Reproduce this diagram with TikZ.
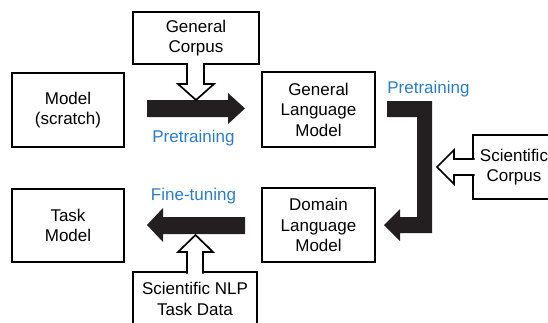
\documentclass[tikz,border=0pt]{standalone}
\usepackage{fontspec}
\setmainfont{Liberation Sans}
\definecolor{lblblue}{RGB}{42,126,200}
\definecolor{arrowblack}{RGB}{35,31,32}
\begin{document}
\begin{tikzpicture}[x=1pt,y=-1pt,
  box/.style={draw=black, line width=1.7pt, fill=white, align=center, inner sep=0pt,
    font=\fontsize{17}{20.5}\selectfont},
  lbl/.style={text=lblblue, anchor=base, inner sep=0pt, font=\fontsize{17}{20.5}\selectfont},
  bigarrow/.style={fill=arrowblack},
  hollow/.style={draw=black, fill=white, line width=1.7pt, line join=miter}]
\useasboundingbox (0,0) rectangle (548,322);

% boxes
\node[box, minimum width=112pt, minimum height=74pt] (scratch) at (68,110) {Model\\(scratch)};
\node[box, minimum width=126pt, minimum height=52pt] (gencorp) at (196,38) {General\\Corpus};
\node[box, minimum width=113pt, minimum height=75pt] (glm) at (318.5,109.5) {General\\Language\\Model};
\node[box, minimum width=82pt, minimum height=64pt] (scicorp) at (514,167) {Scientific\\Corpus};
\node[box, minimum width=113pt, minimum height=74pt] (dlm) at (318.5,225) {Domain\\Language\\Model};
\node[box, minimum width=112pt, minimum height=73pt] (task) at (68,225.5) {Task\\Model};
\node[box, minimum width=124pt, minimum height=58pt, text depth=0pt] (scinlp) at (195,301) {};
\node[font=\fontsize{17}{20.5}\selectfont, align=center, inner sep=0pt] (scinlptxt) at (195,299) {Scientific NLP\\Task Data};

% black arrows
\fill[bigarrow] (147,100) -- (228,100) -- (228,93) -- (245,108.5) -- (228,124) -- (228,117) -- (147,117) -- cycle;
\fill[bigarrow] (245,217) -- (163,217) -- (163,208) -- (147,225) -- (163,242) -- (163,234) -- (245,234) -- cycle;
\fill[bigarrow] (387,101) -- (432,101) -- (432,233) -- (400,233) -- (400,241) -- (384,225) -- (400,209) -- (400,217) -- (417,217) -- (417,117) -- (387,117) -- cycle;

% hollow arrows
\filldraw[hollow] (187,63) -- (187,84) -- (178,84) -- (196,100) -- (214,84) -- (204,84) -- (204,63);
\filldraw[hollow] (187,273.5) -- (187,252) -- (178,252) -- (195.5,235) -- (213,252) -- (203,252) -- (203,273.5);
\filldraw[hollow] (474.5,159) -- (454,159) -- (454,150) -- (437,167) -- (454,184) -- (454,175) -- (474.5,175);

% labels
\node[lbl] (pre1) at (193.5,142) {Pretraining};
\node[lbl] (pre2) at (428.5,93) {Pretraining};
\node[lbl] (fine) at (193.5,200) {Fine-tuning};
\end{tikzpicture}
\end{document}
